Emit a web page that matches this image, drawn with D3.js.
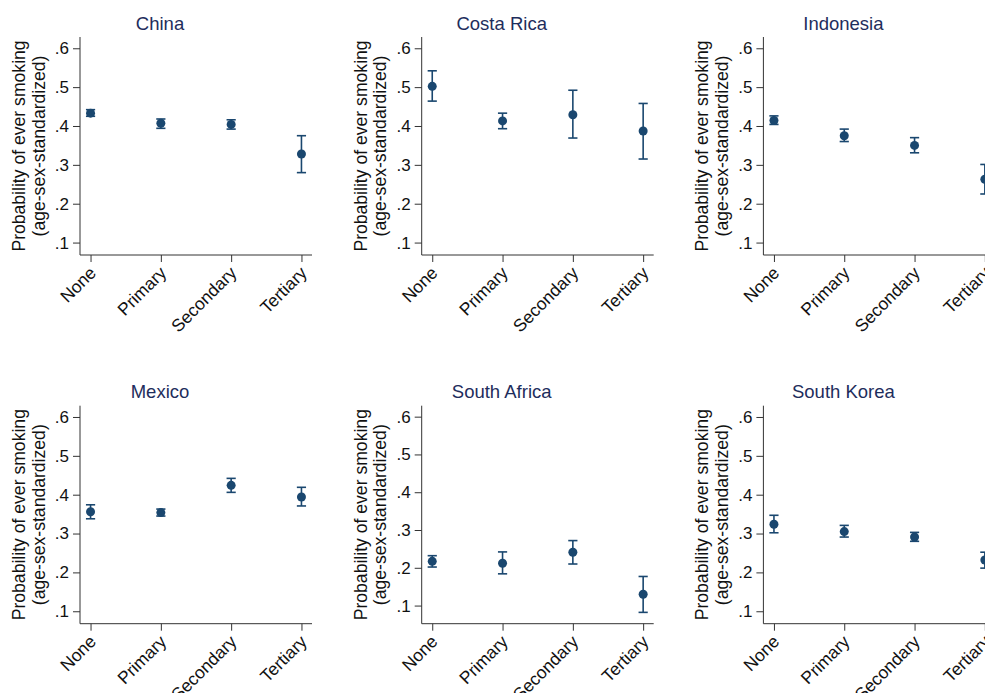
<!DOCTYPE html>
<html>
<head>
<meta charset="utf-8">
<script src="https://cdn.jsdelivr.net/npm/d3@7"></script>
<style>
  html, body { margin: 0; padding: 0; background: #ffffff; }
  svg { display: block; font-family: "Liberation Sans", Arial, Helvetica, sans-serif; }
</style>
</head>
<body>
<svg id="chart" width="985" height="693"></svg>
<script>
// ---------- data ----------
const categories = ["None", "Primary", "Secondary", "Tertiary"];
const countries = ["China", "Costa Rica", "Indonesia", "Mexico", "South Africa", "South Korea"];
const yTicks = [0.1, 0.2, 0.3, 0.4, 0.5, 0.6];
const yTickLabels = [".1", ".2", ".3", ".4", ".5", ".6"];
const yTitleLines = ["Probability of ever smoking", "(age-sex-standardized)"];

// point estimates per country (order: None, Primary, Secondary, Tertiary)
const chinaEst      = [0.433, 0.407, 0.404, 0.328];
const costaRicaEst  = [0.502, 0.413, 0.429, 0.387];
const indonesiaEst  = [0.414, 0.375, 0.350, 0.263];
const mexicoEst     = [0.356, 0.354, 0.424, 0.394];
const southAfricaEst= [0.217, 0.212, 0.241, 0.130];
const southKoreaEst = [0.324, 0.305, 0.291, 0.232];

// lower / upper confidence limits
const chinaLo       = [0.425, 0.394, 0.392, 0.280];
const chinaHi       = [0.442, 0.418, 0.416, 0.375];
const costaRicaLo   = [0.464, 0.393, 0.369, 0.315];
const costaRicaHi   = [0.542, 0.433, 0.492, 0.458];
const indonesiaLo   = [0.404, 0.360, 0.331, 0.225];
const indonesiaHi   = [0.426, 0.392, 0.370, 0.301];
const mexicoLo      = [0.338, 0.345, 0.406, 0.371];
const mexicoHi      = [0.374, 0.363, 0.442, 0.419];
const southAfricaLo = [0.202, 0.184, 0.210, 0.082];
const southAfricaHi = [0.232, 0.242, 0.272, 0.177];
const southKoreaLo  = [0.302, 0.291, 0.280, 0.211];
const southKoreaHi  = [0.347, 0.321, 0.303, 0.252];

// y-axis range per panel (Stata extends range to data)
const yMin = [0.068, 0.068, 0.068, 0.068, 0.052, 0.068];
const yMax = [0.629, 0.629, 0.629, 0.629, 0.629, 0.629];

const estAll = [chinaEst, costaRicaEst, indonesiaEst, mexicoEst, southAfricaEst, southKoreaEst];
const loAll  = [chinaLo, costaRicaLo, indonesiaLo, mexicoLo, southAfricaLo, southKoreaLo];
const hiAll  = [chinaHi, costaRicaHi, indonesiaHi, mexicoHi, southAfricaHi, southKoreaHi];

// ---------- layout ----------
const svg = d3.select("#chart");
const plotW = 232, plotH = 218;
const colX = [80, 421.7, 763.4];
const rowY = [37, 405.7];
const markerColor = "#1a476f";
const titleColor = "#1e2d5c";
const axisColor = "#333333";
const textColor = "#111111";
const fontFam = "'Liberation Sans', Arial, Helvetica, sans-serif";

countries.forEach((name, i) => {
  const c = i % 3, r = Math.floor(i / 3);
  const g = svg.append("g").attr("transform", `translate(${colX[c]},${rowY[r]})`);

  const x = d3.scalePoint().domain(categories).range([0, plotW]).padding(0.15);
  const y = d3.scaleLinear().domain([yMin[i], yMax[i]]).range([plotH, 0]);

  // title
  g.append("text")
    .attr("x", 80).attr("y", -7.5)
    .attr("text-anchor", "middle")
    .attr("font-size", 18.5)
    .attr("fill", titleColor)
    .text(name);

  // y axis
  const yAxis = d3.axisLeft(y).tickValues(yTicks)
    .tickFormat((d, k) => yTickLabels[k]).tickSize(7).tickPadding(4);
  const ya = g.append("g").call(yAxis);
  ya.select(".domain").attr("stroke", axisColor).attr("d", `M0,0V${plotH}`);
  ya.selectAll(".tick line").attr("stroke", axisColor);
  ya.selectAll(".tick text").attr("font-size", 17).attr("fill", textColor)
    .attr("font-family", fontFam);

  // x axis
  const xAxis = d3.axisBottom(x).tickSize(7).tickFormat(d => d);
  const xa = g.append("g").attr("transform", `translate(0,${plotH})`).call(xAxis);
  xa.select(".domain").attr("stroke", axisColor).attr("d", `M0,0H${plotW}`);
  xa.selectAll(".tick line").attr("stroke", axisColor);
  xa.selectAll(".tick text")
    .attr("font-size", 17.5).attr("fill", textColor)
    .attr("font-family", fontFam)
    .attr("text-anchor", "end")
    .attr("x", 0).attr("y", 0).attr("dy", null)
    .attr("transform", "translate(6,19) rotate(-45)");

  // y axis title
  const yt = g.append("text")
    .attr("transform", `translate(0,${plotH / 2}) rotate(-90)`)
    .attr("text-anchor", "middle")
    .attr("font-size", 17.6)
    .attr("fill", textColor);
  yt.append("tspan").attr("x", 0).attr("y", -55).text(yTitleLines[0]);
  yt.append("tspan").attr("x", 0).attr("y", -35.5).text(yTitleLines[1]);

  // data
  const data = categories.map((cat, k) => ({cat, est: estAll[i][k], lo: loAll[i][k], hi: hiAll[i][k]}));
  const cap = 4.6;
  const eb = g.append("g").attr("stroke", markerColor).attr("stroke-width", 1.6).attr("fill", "none");
  eb.selectAll("line.v").data(data).join("line").attr("class", "v")
    .attr("x1", d => x(d.cat)).attr("x2", d => x(d.cat))
    .attr("y1", d => y(d.lo)).attr("y2", d => y(d.hi));
  eb.selectAll("line.t").data(data).join("line").attr("class", "t")
    .attr("x1", d => x(d.cat) - cap).attr("x2", d => x(d.cat) + cap)
    .attr("y1", d => y(d.hi)).attr("y2", d => y(d.hi));
  eb.selectAll("line.b").data(data).join("line").attr("class", "b")
    .attr("x1", d => x(d.cat) - cap).attr("x2", d => x(d.cat) + cap)
    .attr("y1", d => y(d.lo)).attr("y2", d => y(d.lo));

  g.selectAll("circle.pt").data(data).join("circle").attr("class", "pt")
    .attr("cx", d => x(d.cat)).attr("cy", d => y(d.est))
    .attr("r", 4.5).attr("fill", markerColor);
});
</script>
</body>
</html>
